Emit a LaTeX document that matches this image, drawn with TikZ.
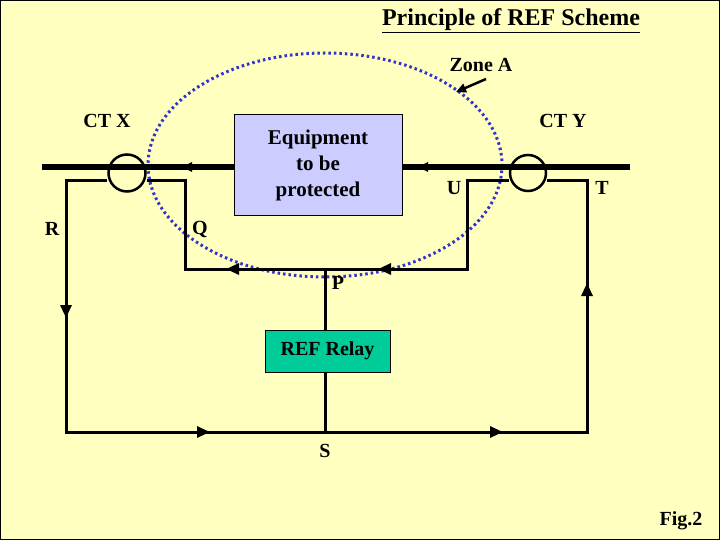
\documentclass[tikz,border=0pt]{standalone}
\usepackage{fontspec}
\setmainfont{Liberation Serif}
\usetikzlibrary{arrows.meta}
\definecolor{bg}{RGB}{255,255,192}
\definecolor{equip}{RGB}{204,204,255}
\definecolor{relay}{RGB}{0,204,153}
\definecolor{zone}{RGB}{51,51,204}
\begin{document}
\begin{tikzpicture}[x=1pt,y=-1pt,
  lbl/.style={font=\bfseries\fontsize{20}{22}\selectfont, inner sep=0pt},
  wire/.style={line width=3pt},
  bus/.style={line width=6pt},
  tip/.style={-{Triangle[length=13pt,width=11pt]}},
  btip/.style={line width=6pt,-{Triangle[length=10pt,width=9pt]}}]
\fill[bg] (0,0) rectangle (720,540);
\draw[line width=1pt] (0.5,0.5) rectangle (719.5,539.5);
\node[font=\bfseries\fontsize{24}{26}\selectfont, inner sep=1pt] (title) at (511,21) {\underline{Principle of REF Scheme}};
% ellipse
\draw[zone, line width=3pt, dash pattern=on 2.5pt off 3pt] (325,165) ellipse [x radius=177, y radius=112];
% bus
\coordinate (busL) at (42,167);
\coordinate (busR) at (630,167);
\node[draw, line width=1pt, fill=equip, minimum width=168pt, minimum height=101pt, font=\bfseries\fontsize{21}{26}\selectfont, align=center] (eq) at (318,165.5) {Equipment\\to be\\protected};
\draw[bus] (busR) -- (eq.east |- busR);
\draw[bus] (eq.west |- busL) -- (busL);
\draw[btip] (440,167) -- (418,167);
\draw[btip] (210,167) -- (182,167);
% CTs
\node[draw, circle, line width=2.5pt, minimum size=37pt, inner sep=0pt] (ctx) at (127,173) {};
\node[draw, circle, line width=2.5pt, minimum size=36pt, inner sep=0pt] (cty) at (528,173) {};
% relay
\node[draw, line width=1pt, fill=relay, minimum width=125pt, minimum height=42pt, font=\bfseries\fontsize{20}{22}\selectfont] (rly) at (327.5,351) {REF Relay};
\coordinate (P) at (325,269);
\coordinate (S) at (325,432);
\coordinate (Q) at (185,181);
\coordinate (U) at (467,181);
\coordinate (R) at (66,181);
\coordinate (T) at (587,181);
% secondary wiring
\draw[wire] (ctx.west |- R) -- (R) -- (66,432) -- (S);
\draw[wire] (S) -- (587,432) -- (T) -- (cty.east |- T);
\draw[wire] (ctx.east |- Q) -- (Q) -- (185,269) -- (P);
\draw[wire] (P) -- (467,269) -- (U) -- (cty.west |- U);
\draw[wire] (P) -- (rly.north -| P);
\draw[wire] (rly.south -| S) -- (S);
% arrowheads on wiring
\draw[wire, tip] (66,290) -- (66,318);
\draw[wire, tip] (587,310) -- (587,283);
\draw[wire, tip] (180,432) -- (210,432);
\draw[wire, tip] (470,432) -- (503,432);
\draw[wire, tip] (260,269) -- (226,269);
\draw[wire, tip] (410,269) -- (378,269);
% zone arrow
\node[lbl] (zn) at (481,65) {Zone A};
\draw[line width=2.5pt, -{Triangle[length=10pt,width=9pt]}] (486,79) -- (456,92);
% labels
\node[lbl] (lx) at (107,121) {CT X};
\node[lbl] (ly) at (563,121) {CT Y};
\node[lbl] (lr) at (52,229) {R};
\node[lbl] (lq) at (200,229) {Q};
\node[lbl] (lu) at (454,188) {U};
\node[lbl] (lt) at (602,188) {T};
\node[lbl] (lp) at (338,283) {P};
\node[lbl] (ls) at (325,451) {S};
\node[lbl] (fig) at (681,521) {Fig.2};
\end{tikzpicture}
\end{document}
